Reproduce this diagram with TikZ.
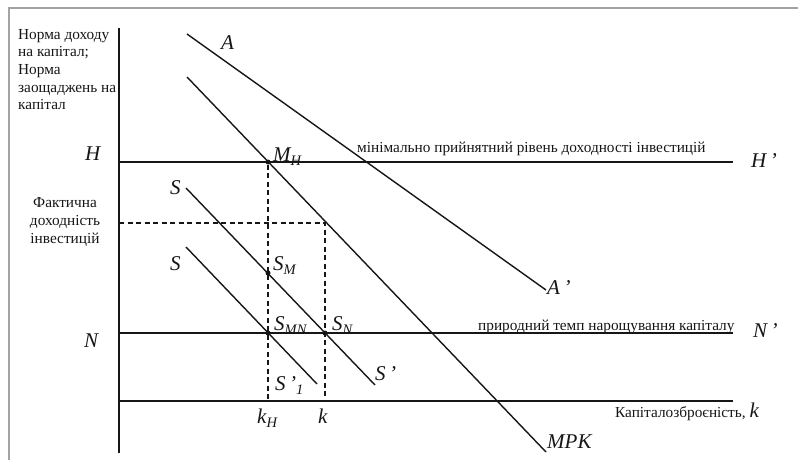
\documentclass[tikz,border=0pt]{standalone}
\usepackage{fontspec}
\setmainfont{Liberation Serif}
\usetikzlibrary{calc}
\definecolor{grInk}{HTML}{161616}
\definecolor{grFrame}{HTML}{A3A3A3}
\newcommand{\lowsub}[1]{\raisebox{-.45ex}{\fontsize{14.5}{14.5}\selectfont#1}}
\tikzset{
 chart/.style={line cap=butt,text=grInk},
 frame/.style={draw=grFrame,line width=2pt},
 axis/.style={draw=grInk,line width=2.8pt},
 level/.style={draw=grInk,line width=1.8pt},
 curve/.style={draw=grInk,line width=1.4pt},
 guide/.style={draw=grInk,line width=1.2pt,dash pattern=on 5pt off 3.5pt},
 dot/.style={circle,fill=grInk,inner sep=0pt,minimum size=5pt},
 sym/.style={font=\fontsize{21}{23}\selectfont\itshape,inner sep=0pt,anchor=base west},
 txt/.style={font=\fontsize{15.3}{17.6}\selectfont,inner sep=0pt}
}

\begin{document}
\begin{tikzpicture}[chart,x=1pt,y=-1pt]
 \useasboundingbox (0,0) rectangle (798,460);
 \draw[frame] (9,460) -- (9,8) -- (798,8);
 % axes and levels
 \coordinate (ytop) at (119,28); \coordinate (ybot) at (119,453);
 \coordinate (k0) at (119,401); \coordinate (k1) at (733,401);
 \coordinate (h0) at (119,162); \coordinate (h1) at (733,162);
 \coordinate (n0) at (119,333); \coordinate (n1) at (733,333);
 \draw[level] (k0) -- (k1);
 \draw[level,line width=1.6pt] (h0) -- (h1);
 \draw[level,line width=1.6pt] (n0) -- (n1);
 \draw[axis] (ytop) -- (ybot);
 % curves
 \coordinate (a0) at (187,34); \coordinate (a1) at (546,290);
 \coordinate (m0) at (187,77); \coordinate (m1) at (546,452);
 \coordinate (s0) at (186,188); \coordinate (s1) at (375,385);
 \coordinate (t0) at (186,247); \coordinate (t1) at (317,384);
 \draw[curve] (a0) -- (a1); \draw[curve] (m0) -- (m1);
 \draw[curve] (s0) -- (s1); \draw[curve] (t0) -- (t1);
 % points and guides
 \foreach \n/\x/\y in {MH/268/162,SM/268/273,SMN/268/333,SN/325/333}{\node[dot] (\n) at (\x,\y) {};}
 \coordinate (f0) at (119,223); \coordinate (f1) at (325,223);
 \coordinate (kH) at (268,401); \coordinate (kk) at (325,401);
 \draw[guide] (MH) -- (kH);
 \draw[guide] (f0) -- (f1) -- (kk);
 % texts
 \node[txt,align=left,anchor=north west] (ylab) at (18,29) {Норма доходу\\на капітал;\\Норма\\заощаджень на\\капітал};
 \node[txt,align=center] (fact) at (65,222) {Фактична\\доходність\\інвестицій};
 \node[txt,anchor=base west] (hlab) at (357,152) {мінімально прийнятний рівень доходності інвестицій};
 \node[txt,anchor=base west] (nlab) at (478,330) {природний темп нарощування капіталу};
 \node[txt,anchor=base west] (klab) at (615,417) {Капіталозброєність,\ {\fontsize{21}{23}\selectfont\itshape k}};
 \node[sym] (H) at (85,160) {H}; \node[sym] (H') at (751,167) {H\,’};
 \node[sym] (N) at (84,347) {N}; \node[sym] (N') at (753,337) {N\,’};
 \node[sym] (A) at (221,50) {A}; \node[sym] (A') at (547,294) {A\,’};
 \node[sym] (MPK) at (547,448) {MPK};
 \node[sym] (lMH) at (273,161) {M\lowsub{H}};
 \node[sym] (S) at (170,194) {S}; \node[sym] (S2) at (170,270) {S};
 \node[sym] (lSM) at (273,270) {S\lowsub{M}};
 \node[sym] (lSMN) at (274,330) {S\lowsub{MN}};
 \node[sym] (lSN) at (332,330) {S\lowsub{N}};
 \node[sym] (S') at (375,380) {S\,’};
 \node[sym] (S'1) at (275,390) {S\,’\lowsub{1}};
 \node[sym] (lkH) at (257,423) {k\lowsub{H}};
 \node[sym] (lk) at (318,423) {k};
\end{tikzpicture}
\end{document}
